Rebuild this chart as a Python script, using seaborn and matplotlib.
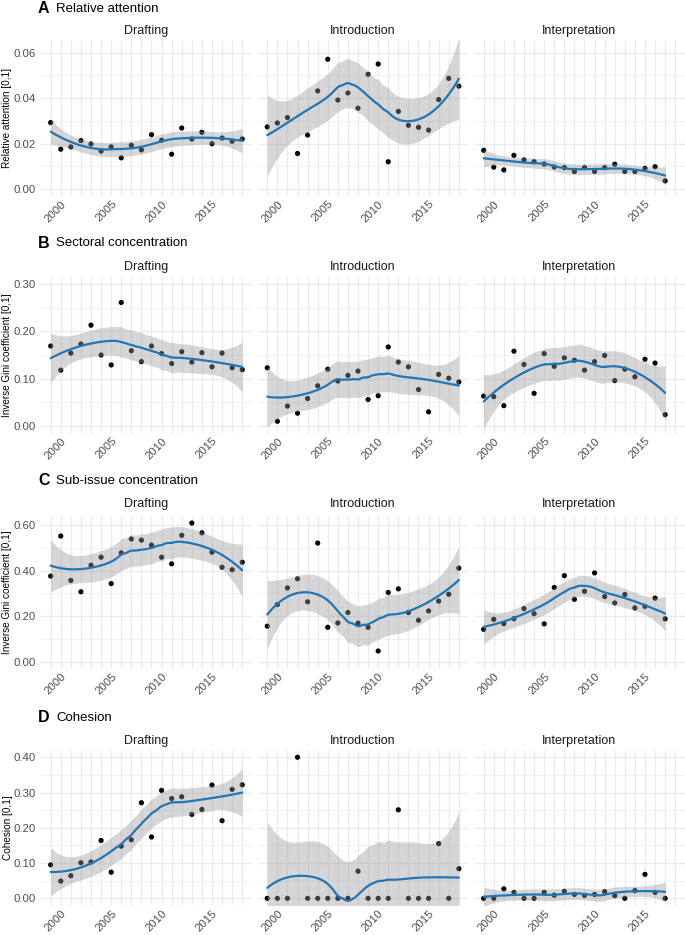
import numpy as np
import pandas as pd
import matplotlib
matplotlib.use('Agg')
import matplotlib.pyplot as plt
import seaborn as sns

# ---- data --------------------------------------------------------------------
YEARS = list(range(1999, 2019))          # Drafting, Introduction
YEARS_INTERP = list(range(1999, 2018))   # Interpretation stops at 2017
PHASES = ['Drafting', 'Introduction', 'Interpretation']

att_drafting = [0.0293, 0.0176, 0.0186, 0.0214, 0.0199, 0.0168, 0.0186, 0.0138, 0.0193, 0.0173,
                0.0240, 0.0215, 0.0154, 0.0269, 0.0221, 0.0250, 0.0200, 0.0225, 0.0211, 0.0221]
att_intro = [0.0274, 0.0291, 0.0315, 0.0157, 0.0238, 0.0432, 0.0571, 0.0392, 0.0423, 0.0356,
             0.0505, 0.0550, 0.0121, 0.0342, 0.0281, 0.0272, 0.0260, 0.0394, 0.0487, 0.0453]
att_interp = [0.0171, 0.0097, 0.0085, 0.0149, 0.0129, 0.0121, 0.0111, 0.0098, 0.0095, 0.0078,
              0.0095, 0.0078, 0.0095, 0.0110, 0.0078, 0.0078, 0.0092, 0.0099, 0.0037]

sec_drafting = [0.169, 0.118, 0.154, 0.173, 0.213, 0.150, 0.129, 0.261, 0.159, 0.136,
                0.169, 0.153, 0.132, 0.157, 0.135, 0.155, 0.125, 0.154, 0.123, 0.119]
sec_intro = [0.123, 0.010, 0.042, 0.027, 0.058, 0.085, 0.120, 0.095, 0.107, 0.116,
             0.056, 0.064, 0.167, 0.135, 0.125, 0.077, 0.030, 0.109, 0.101, 0.093]
sec_interp = [0.063, 0.062, 0.043, 0.158, 0.130, 0.069, 0.153, 0.126, 0.144, 0.139,
              0.118, 0.136, 0.149, 0.096, 0.120, 0.104, 0.141, 0.133, 0.024]

sub_drafting = [0.376, 0.552, 0.357, 0.307, 0.424, 0.459, 0.343, 0.478, 0.539, 0.534,
                0.512, 0.459, 0.430, 0.555, 0.609, 0.566, 0.481, 0.415, 0.404, 0.437]
sub_intro = [0.156, 0.251, 0.324, 0.364, 0.263, 0.521, 0.151, 0.170, 0.216, 0.169,
             0.151, 0.047, 0.304, 0.320, 0.216, 0.182, 0.223, 0.266, 0.296, 0.411]
sub_interp = [0.142, 0.186, 0.167, 0.189, 0.233, 0.211, 0.166, 0.326, 0.378, 0.274,
              0.309, 0.390, 0.286, 0.258, 0.295, 0.236, 0.243, 0.279, 0.188]

coh_drafting = [0.095, 0.049, 0.064, 0.101, 0.103, 0.164, 0.074, 0.148, 0.166, 0.271,
                0.174, 0.306, 0.283, 0.288, 0.238, 0.252, 0.321, 0.220, 0.309, 0.322]
coh_intro = [0.0, 0.0, 0.0, 0.400, 0.0, 0.0, 0.0, 0.0, 0.0, 0.077,
             0.0, 0.0, 0.0, 0.251, 0.0, 0.0, 0.0, 0.155, 0.0, 0.084]
coh_interp = [0.0, 0.0, 0.027, 0.017, 0.0, 0.0, 0.017, 0.009, 0.020, 0.011,
              0.0085, 0.011, 0.019, 0.0075, 0.0, 0.022, 0.068, 0.017, 0.0]

ROWS = [
    ('A', 'Relative attention', 'Relative attention [0,1]',
     [att_drafting, att_intro, att_interp], [0.0, 0.02, 0.04, 0.06], '{:.2f}'),
    ('B', 'Sectoral concentration', 'Inverse Gini coefficient [0,1]',
     [sec_drafting, sec_intro, sec_interp], [0.0, 0.1, 0.2, 0.3], '{:.2f}'),
    ('C', 'Sub-issue concentration', 'Inverse Gini coefficient [0,1]',
     [sub_drafting, sub_intro, sub_interp], [0.0, 0.2, 0.4, 0.6], '{:.2f}'),
    ('D', 'Cohesion', 'Cohesion [0,1]',
     [coh_drafting, coh_intro, coh_interp], [0.0, 0.1, 0.2, 0.3, 0.4], '{:.2f}'),
]

# ---- layout (pixels) -------------------------------------------------------
W, H = 685, 935
PANEL_LEFT = [41.1, 257.7, 474.1]
PANEL_W = 210.7
XLIM = (1998.05, 2018.95)
# (panel top px, panel bottom px, ylim, title y px, strip y px)
ROW_GEOM = [
    (39.9, 196.1, (-0.003, 0.0656), 8.5, 31),
    (276.9, 433.1, (-0.015, 0.315), 243, 267),
    (516.0, 668.5, (-0.03, 0.64), 481, 504),
    (750.2, 905.4, (-0.02, 0.42), 718, 741),
]

BLUE = '#2177B6'
FONT = ['Liberation Sans', 'DejaVu Sans']


def t_quantile(df, z=1.959964):
    # Cornish-Fisher expansion of the Student t 97.5% quantile
    g1 = (z**3 + z) / 4
    g2 = (5*z**5 + 16*z**3 + 3*z) / 96
    g3 = (3*z**7 + 19*z**5 + 17*z**3 - 15*z) / 384
    return z + g1/df + g2/df**2 + g3/df**3


def loess(x, y, xg, span=0.75):
    """Local quadratic loess (R defaults) with 95% confidence band."""
    x = np.asarray(x, float); y = np.asarray(y, float)
    n = len(x)
    q = int(np.floor(n * span))

    def op_row(x0):
        d = np.abs(x - x0)
        h = np.sort(d)[q - 1]
        w = np.clip(1 - (d / h) ** 3, 0, None) ** 3
        X = np.column_stack([np.ones(n), x - x0, (x - x0) ** 2])
        XtW = X.T * w
        return np.linalg.solve(XtW @ X, XtW)[0]

    L = np.array([op_row(v) for v in x])
    Lg = np.array([op_row(v) for v in xg])
    fit = Lg @ y
    res = y - L @ y
    IL = np.eye(n) - L
    M = IL.T @ IL
    d1, d2 = np.trace(M), np.trace(M @ M)
    sigma = np.sqrt(res @ res / d1)
    se = sigma * np.sqrt((Lg ** 2).sum(1))
    tq = t_quantile(d1 ** 2 / d2)
    return fit, fit - tq * se, fit + tq * se


sns.set_theme(style='white')
plt.rcParams['font.family'] = FONT

fig = plt.figure(figsize=(W / 100, H / 100), dpi=100)
fig.patch.set_facecolor('white')

for (letter, title, ylabel, series, yticks, fmt), (top, bot, ylim, ty, sy) in zip(ROWS, ROW_GEOM):
    fig.text(38 / W, 1 - ty / H, letter, fontsize=11.5, fontweight='bold',
             ha='left', va='center', color='black')
    fig.text(56 / W, 1 - ty / H, title, fontsize=9.5, ha='left', va='center', color='black')
    ystep = yticks[1] - yticks[0]
    yminor = [v + ystep / 2 for v in yticks[:-1]]
    for j, (phase, vals) in enumerate(zip(PHASES, series)):
        yrs = YEARS if len(vals) == len(YEARS) else YEARS_INTERP
        df = pd.DataFrame({'year': yrs, 'value': vals})
        ax = fig.add_axes([PANEL_LEFT[j] / W, 1 - bot / H, PANEL_W / W, (bot - top) / H])
        ax.set_facecolor('white')

        sns.scatterplot(data=df, x='year', y='value', ax=ax, color='black', s=14,
                        edgecolor='none', linewidth=0, zorder=2)
        xg = np.linspace(df['year'].min(), df['year'].max(), 80)
        fit, lo, hi = loess(df['year'], df['value'], xg)
        ax.fill_between(xg, lo, hi, color='#999999', alpha=0.4, linewidth=0, zorder=3)
        sm = pd.DataFrame({'year': xg, 'fit': fit})
        sns.lineplot(data=sm, x='year', y='fit', ax=ax, color=BLUE, linewidth=1.6, zorder=4)

        ax.set_xlim(*XLIM)
        ax.set_ylim(*ylim)
        ax.set_xticks(YEARS)
        ax.set_xticklabels([str(y) if y % 5 == 0 else '' for y in YEARS],
                           rotation=45, ha='right', va='top', rotation_mode='anchor',
                           fontsize=8.2, color='#4D4D4D')
        ax.set_yticks(yticks)
        ax.set_yticks(yminor, minor=True)
        if j == 0:
            ax.set_yticklabels([fmt.format(v) for v in yticks], fontsize=8.2, color='#4D4D4D')
            ax.set_ylabel(ylabel, fontsize=7.2, color='black')
            ax.yaxis.set_label_coords(-(41.1 - 12.5) / PANEL_W, 0.5)
        else:
            ax.set_yticklabels([])
            ax.set_ylabel('')
        ax.set_xlabel('')
        ax.tick_params(axis='both', which='both', length=0)
        ax.tick_params(axis='y', pad=4)
        ax.tick_params(axis='x', pad=2)
        ax.grid(True, which='major', color='#EBEBEB', linewidth=1.0, zorder=0)
        ax.grid(True, which='minor', axis='y', color='#EBEBEB', linewidth=0.5, zorder=0)
        ax.set_axisbelow(True)
        for sp in ax.spines.values():
            sp.set_visible(False)
        fig.text((PANEL_LEFT[j] + PANEL_W / 2) / W, 1 - sy / H, phase, fontsize=9,
                 ha='center', va='center', color='#1A1A1A')

fig.savefig('out.png', dpi=100, facecolor='white')
